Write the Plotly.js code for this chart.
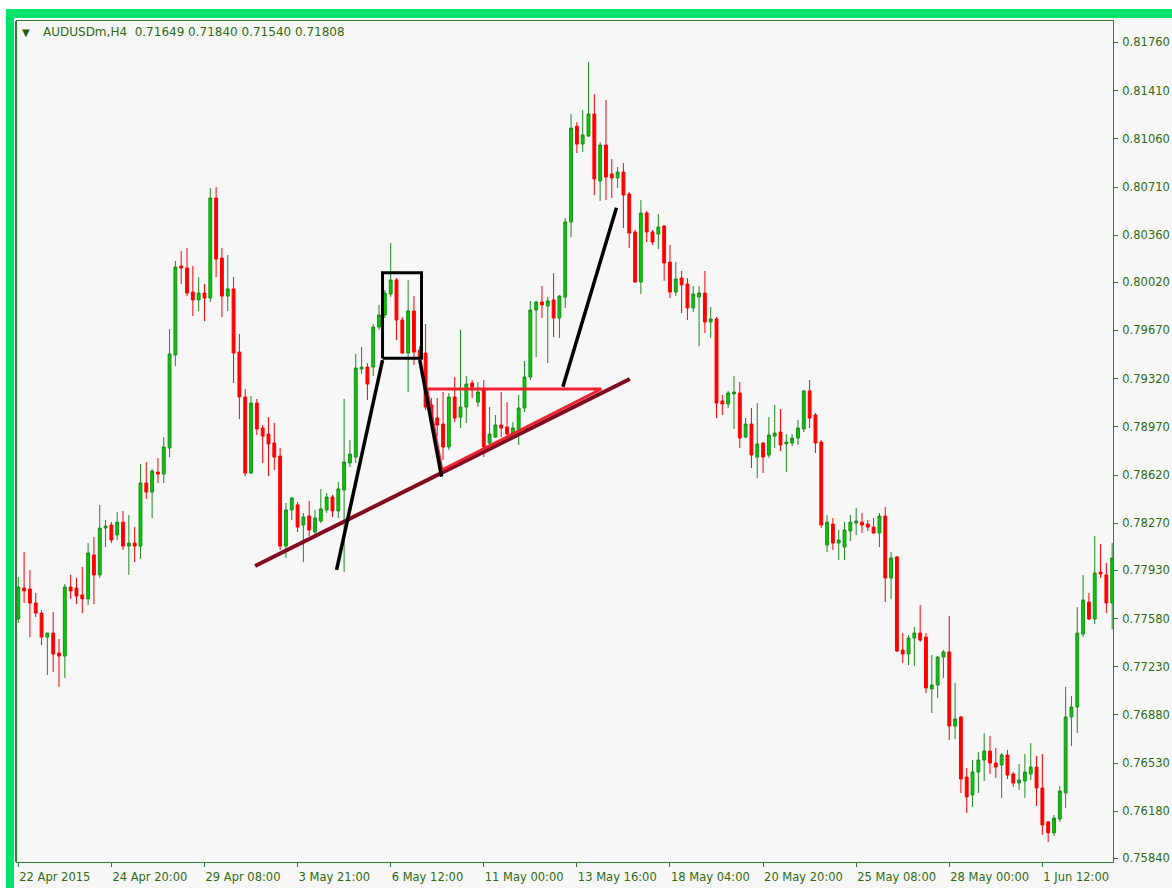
<!DOCTYPE html>
<html>
<head>
<meta charset="utf-8">
<script src="https://cdn.plot.ly/plotly-3.0.1.min.js"></script>
<style>
  html, body { margin: 0; padding: 0; background: #ffffff; }
  #chart { width: 1172px; height: 888px; }
</style>
</head>
<body>
<div id="chart"></div>
<script>
// ---- Data: AUDUSDm H4 candles (bar index order) ----
const openP = [
0.77576,0.77801,0.77794,0.77692,0.77619,0.77445,0.77474,0.77329,0.77307,0.77808,
0.77801,0.77751,0.77722,0.78041,0.77896,0.78236,0.78258,0.78186,0.78279,0.78105,
0.78127,0.78105,0.78563,0.78497,0.78642,0.78628,0.78817,0.79492,0.80137,0.80123,
0.79948,0.79891,0.79941,0.79905,0.80631,0.80195,0.79919,0.79971,0.79513,0.79187,
0.78635,0.79143,0.78962,0.78918,0.78853,0.78758,0.78105,0.78367,0.78404,0.78258,
0.78323,0.78207,0.78287,0.78367,0.78461,0.78360,0.78512,0.78708,0.78751,0.79390,
0.79404,0.79404,0.79694,0.79782,0.79934,0.80036,0.79745,0.79506,0.79811,0.79528,
0.79506,0.79129,0.79034,0.78991,0.78824,0.79187,0.79041,0.79114,0.79288,0.79150,
0.79238,0.78853,0.78896,0.78984,0.78969,0.78925,0.78947,0.79107,0.79332,0.79818,
0.79876,0.79847,0.79891,0.79760,0.79912,0.80457,0.81152,0.81022,0.81080,0.81240,
0.80754,0.81015,0.80805,0.80776,0.80819,0.80660,0.80384,0.80021,0.80522,0.80384,
0.80369,0.80427,0.80166,0.79948,0.80050,0.80007,0.79833,0.79912,0.79941,0.79731,
0.79753,0.79158,0.79136,0.79209,0.79216,0.78896,0.78991,0.78751,0.78853,0.78766,
0.78903,0.78933,0.78846,0.78853,0.78889,0.78955,0.79231,0.79056,0.78860,0.78113,
0.78265,0.78127,0.78098,0.78215,0.78272,0.78279,0.78265,0.78243,0.78200,0.78323,
0.77874,0.78026,0.77351,0.77322,0.77438,0.77474,0.77445,0.77068,0.77097,0.77300,
0.77337,0.76800,0.76865,0.76430,0.76300,0.76466,0.76553,0.76618,0.76531,0.76517,
0.76589,0.76452,0.76386,0.76401,0.76452,0.76502,0.76350,0.76104,0.76024,0.76125,
0.76314,0.76865,0.76938,0.77467,0.77699,0.77576,0.77917,0.77896,0.77692
];
const highP = [
0.77881,0.78062,0.77932,0.77765,0.77641,0.77474,0.77626,0.77431,0.77830,0.77896,
0.77874,0.77953,0.78127,0.78171,0.78404,0.78294,0.78279,0.78352,0.78360,0.78331,
0.78243,0.78701,0.78715,0.78665,0.78744,0.78896,0.79680,0.80174,0.80246,0.80268,
0.80137,0.80057,0.80007,0.80703,0.80710,0.80268,0.80217,0.80057,0.79644,0.79245,
0.79194,0.79173,0.78984,0.79041,0.78998,0.78817,0.78418,0.78461,0.78425,0.78345,
0.78433,0.78367,0.78520,0.78490,0.78476,0.78570,0.79173,0.78875,0.79499,0.79549,
0.79433,0.79716,0.79855,0.79963,0.80304,0.80050,0.79767,0.80036,0.79919,0.79556,
0.79716,0.79180,0.79180,0.79223,0.79216,0.79332,0.79673,0.79339,0.79310,0.79296,
0.79310,0.79114,0.79056,0.79223,0.79150,0.79005,0.79202,0.79448,0.79884,0.79884,
0.79992,0.79912,0.80086,0.79927,0.80485,0.81240,0.81181,0.81269,0.81617,0.81385,
0.81036,0.81342,0.80914,0.80855,0.80884,0.80674,0.80398,0.80616,0.80536,0.80398,
0.80514,0.80435,0.80290,0.80166,0.80101,0.80050,0.79992,0.79992,0.80101,0.79840,
0.79767,0.79202,0.79231,0.79339,0.79296,0.79034,0.79107,0.79143,0.78860,0.79041,
0.79129,0.79100,0.78918,0.78918,0.79020,0.79238,0.79310,0.79071,0.78875,0.78331,
0.78309,0.78222,0.78279,0.78331,0.78382,0.78345,0.78294,0.78309,0.78345,0.78389,
0.78062,0.78033,0.77474,0.77460,0.77518,0.77678,0.77474,0.77315,0.77307,0.77351,
0.77598,0.77112,0.76872,0.76495,0.76553,0.76611,0.76749,0.76727,0.76640,0.76604,
0.76626,0.76466,0.76524,0.76596,0.76676,0.76582,0.76596,0.76111,0.76154,0.76365,
0.77083,0.77017,0.77663,0.77896,0.77765,0.78178,0.78120,0.77983,0.78127
];
const lowP = [
0.77547,0.77692,0.77445,0.77590,0.77388,0.77170,0.77191,0.77083,0.77148,0.77722,
0.77685,0.77619,0.77678,0.77685,0.77874,0.78098,0.78127,0.78149,0.78077,0.77896,
0.77989,0.78012,0.78447,0.78309,0.78563,0.78563,0.78751,0.79411,0.80007,0.79919,
0.79774,0.79811,0.79738,0.79876,0.80057,0.79767,0.79811,0.79288,0.79027,0.78613,
0.78628,0.78911,0.78708,0.78613,0.78657,0.78077,0.78019,0.78294,0.78207,0.77989,
0.78178,0.78186,0.78272,0.78345,0.78316,0.78309,0.77917,0.78679,0.78708,0.79354,
0.79165,0.79339,0.79673,0.79760,0.79912,0.79600,0.79499,0.79223,0.79419,0.79440,
0.79092,0.78947,0.78903,0.78730,0.78802,0.79005,0.78962,0.78998,0.79180,0.79114,
0.78751,0.78824,0.78889,0.78896,0.78911,0.78911,0.78839,0.79078,0.79310,0.79477,
0.79760,0.79433,0.79622,0.79615,0.79833,0.80347,0.80957,0.80964,0.81073,0.80652,
0.80609,0.80616,0.80631,0.80703,0.80413,0.80268,0.80014,0.79934,0.80311,0.80290,
0.80261,0.80029,0.79905,0.79919,0.79796,0.79745,0.79803,0.79556,0.79651,0.79615,
0.79034,0.79056,0.79107,0.78955,0.78817,0.78889,0.78672,0.78599,0.78635,0.78744,
0.78817,0.78795,0.78642,0.78831,0.78839,0.78933,0.78962,0.78781,0.78236,0.78062,
0.78077,0.78004,0.78004,0.78142,0.78186,0.78200,0.78215,0.78193,0.78098,0.77699,
0.77722,0.77337,0.77257,0.77242,0.77235,0.77409,0.77039,0.76894,0.77003,0.77148,
0.76698,0.76705,0.76314,0.76169,0.76212,0.76314,0.76401,0.76452,0.76423,0.76278,
0.76415,0.76358,0.76336,0.76278,0.76408,0.76220,0.76009,0.75958,0.76002,0.76104,
0.76205,0.76655,0.76749,0.77445,0.77569,0.77540,0.77874,0.77619,0.77503
];
const closeP = [
0.77808,0.77780,0.77692,0.77619,0.77445,0.77474,0.77322,0.77307,0.77808,0.77780,
0.77743,0.77722,0.78055,0.77896,0.78236,0.78250,0.78149,0.78279,0.78105,0.78127,
0.78105,0.78563,0.78497,0.78650,0.78628,0.78824,0.79499,0.80130,0.80123,0.79941,
0.79891,0.79941,0.79905,0.80631,0.80188,0.79919,0.79971,0.79506,0.79187,0.78635,
0.79143,0.78955,0.78903,0.78846,0.78751,0.78105,0.78367,0.78454,0.78243,0.78316,
0.78222,0.78309,0.78375,0.78461,0.78360,0.78520,0.78715,0.78773,0.79397,0.79404,
0.79281,0.79694,0.79782,0.79941,0.80036,0.79745,0.79506,0.79811,0.79513,0.79477,
0.79114,0.79020,0.78984,0.78824,0.79187,0.79034,0.79114,0.79281,0.79259,0.79223,
0.78824,0.78918,0.78984,0.78962,0.78918,0.78962,0.79107,0.79332,0.79818,0.79876,
0.79855,0.79884,0.79760,0.79919,0.80457,0.81138,0.81022,0.81088,0.81240,0.80769,
0.81015,0.80783,0.80776,0.80819,0.80652,0.80376,0.80021,0.80521,0.80384,0.80311,
0.80420,0.80159,0.79948,0.80043,0.80000,0.79833,0.79934,0.79941,0.79731,0.79753,
0.79143,0.79136,0.79216,0.79223,0.78889,0.78991,0.78766,0.78846,0.78751,0.78911,
0.78925,0.78839,0.78860,0.78889,0.78962,0.79231,0.79034,0.78853,0.78258,0.78279,
0.78127,0.78149,0.78222,0.78279,0.78287,0.78258,0.78243,0.78200,0.78323,0.77874,
0.78019,0.77344,0.77322,0.77438,0.77474,0.77424,0.77076,0.77097,0.77300,0.77337,
0.76800,0.76851,0.76415,0.76285,0.76466,0.76553,0.76618,0.76531,0.76502,0.76589,
0.76444,0.76386,0.76408,0.76466,0.76502,0.76350,0.76082,0.76024,0.76132,0.76328,
0.76865,0.76938,0.77474,0.77714,0.77576,0.77910,0.77903,0.77692,0.78019
];

// Time axis labels (every 16 bars)
const xTickIdx  = [0, 16, 32, 48, 64, 80, 96, 112, 128, 144, 160, 176];
const xTickText = ["22 Apr 2015","24 Apr 20:00","29 Apr 08:00","3 May 21:00","6 May 12:00",
                   "11 May 00:00","13 May 16:00","18 May 04:00","20 May 20:00","25 May 08:00",
                   "28 May 00:00","1 Jun 12:00"];
// Price axis labels
const yTickText = ["0.81760","0.81410","0.81060","0.80710","0.80360","0.80020","0.79670","0.79320",
                   "0.78970","0.78620","0.78270","0.77930","0.77580","0.77230","0.76880","0.76530",
                   "0.76180","0.75840"];
const yTickVals = yTickText.map(Number);

// Drawn chart objects (bar index, price)
const supportX = [40.7, 105.1];          const supportY = [0.77961, 0.79317];
const triX = [70.2, 100.2, 72.8, 70.2];  const triY = [0.79245, 0.79245, 0.78657, 0.79245];
const legAX = [54.7, 62.6];              const legAY = [0.77932, 0.79455];
const legBX = [69.0, 72.75];             const legBY = [0.79455, 0.78609];
const legCX = [93.6, 102.8];             const legCY = [0.79261, 0.80560];
const boxX = [62.6, 69.3];               const boxY = [0.79468, 0.80089];

const headerText = "AUDUSDm,H4  0.71649 0.71840 0.71540 0.71808";

// ---- Build ----
const xIdx = openP.map((_, i) => i);
const TXT = '#2F6A12';
const FRAME = '#2E7D32';
const FONT = 'DejaVu Sans, Verdana, sans-serif';

function lineTrace(xs, ys, color, w) {
  return { type: 'scatter', mode: 'lines', x: xs, y: ys,
           line: { color: color, width: w }, hoverinfo: 'skip', showlegend: false };
}

const traces = [
  {
    type: 'candlestick', x: xIdx, open: openP, high: highP, low: lowP, close: closeP,
    increasing: { line: { color: '#1E8B1E', width: 1 }, fillcolor: '#00CC00' },
    decreasing: { line: { color: '#FF0000', width: 1 }, fillcolor: '#FF0000' },
    whiskerwidth: 0, showlegend: false, hoverinfo: 'skip'
  },
  lineTrace(supportX, supportY, '#820A22', 4),
  lineTrace(triX, triY, '#EC2230', 3),
  lineTrace(legAX, legAY, '#000000', 3.5),
  lineTrace(legBX, legBY, '#000000', 3.5),
  lineTrace(legCX, legCY, '#000000', 3.5),
  lineTrace([boxX[0], boxX[1], boxX[1], boxX[0], boxX[0]],
            [boxY[0], boxY[0], boxY[1], boxY[1], boxY[0]], '#000000', 3)
];

// pixel helpers for decorative frame (paper coords)
const L = 17, R = 59, T = 21, B = 26, W = 1172, H = 888;
const pw = W - L - R, ph = H - T - B;
const px = v => (v - L) / pw;
const py = v => (H - B - v) / ph;

const layout = {
  width: W, height: H,
  margin: { l: L, r: R, t: T, b: B, pad: 0 },
  paper_bgcolor: '#F7F7F7', plot_bgcolor: '#F7F7F7',
  font: { family: FONT, size: 11.5, color: TXT },
  xaxis: {
    type: 'linear', range: [-0.22, 188.14],
    tickvals: xTickIdx, ticktext: xTickText,
    ticks: 'outside', ticklen: 4, tickcolor: FRAME, tickwidth: 1,
    ticklabelposition: 'outside right', ticklabelstandoff: 4,
    tickfont: { family: FONT, size: 11.5, color: TXT },
    showgrid: false, zeroline: false,
    showline: true, linecolor: FRAME, linewidth: 1, mirror: true,
    rangeslider: { visible: false }, fixedrange: true
  },
  yaxis: {
    side: 'right', range: [0.75813, 0.81915],
    tickvals: yTickVals, ticktext: yTickText,
    ticks: 'outside', ticklen: 4, tickcolor: FRAME, tickwidth: 1,
    ticklabelstandoff: 2,
    tickfont: { family: FONT, size: 11.5, color: TXT },
    showgrid: false, zeroline: false,
    showline: true, linecolor: FRAME, linewidth: 1, mirror: true,
    fixedrange: true
  },
  shapes: [
    // white outer margin
    { type: 'rect', xref: 'paper', yref: 'paper', x0: px(0), x1: px(W), y0: py(9), y1: py(0),
      fillcolor: '#FFFFFF', line: { width: 0 } },
    { type: 'rect', xref: 'paper', yref: 'paper', x0: px(0), x1: px(6), y0: py(H), y1: py(0),
      fillcolor: '#FFFFFF', line: { width: 0 } },
    // green window border
    { type: 'rect', xref: 'paper', yref: 'paper', x0: px(6), x1: px(W), y0: py(18), y1: py(9),
      fillcolor: '#00E36C', line: { width: 0 } },
    { type: 'rect', xref: 'paper', yref: 'paper', x0: px(6), x1: px(14), y0: py(H), y1: py(9),
      fillcolor: '#00E36C', line: { width: 0 } },
    // inner double frame line on left
    { type: 'line', xref: 'paper', yref: 'paper', x0: px(15.5), x1: px(15.5), y0: py(H - B), y1: py(T),
      line: { color: FRAME, width: 1 } }
  ],
  annotations: [
    { xref: 'paper', yref: 'paper', x: px(26), y: py(32), xanchor: 'center', yanchor: 'middle',
      text: '▼', showarrow: false, font: { family: FONT, size: 10, color: '#1F5A0E' } },
    { xref: 'paper', yref: 'paper', x: px(41), y: py(32), xanchor: 'left', yanchor: 'middle',
      text: headerText, showarrow: false, font: { family: FONT, size: 12, color: TXT } }
  ]
};

Plotly.newPlot('chart', traces, layout, { staticPlot: true, displayModeBar: false });
</script>
</body>
</html>
